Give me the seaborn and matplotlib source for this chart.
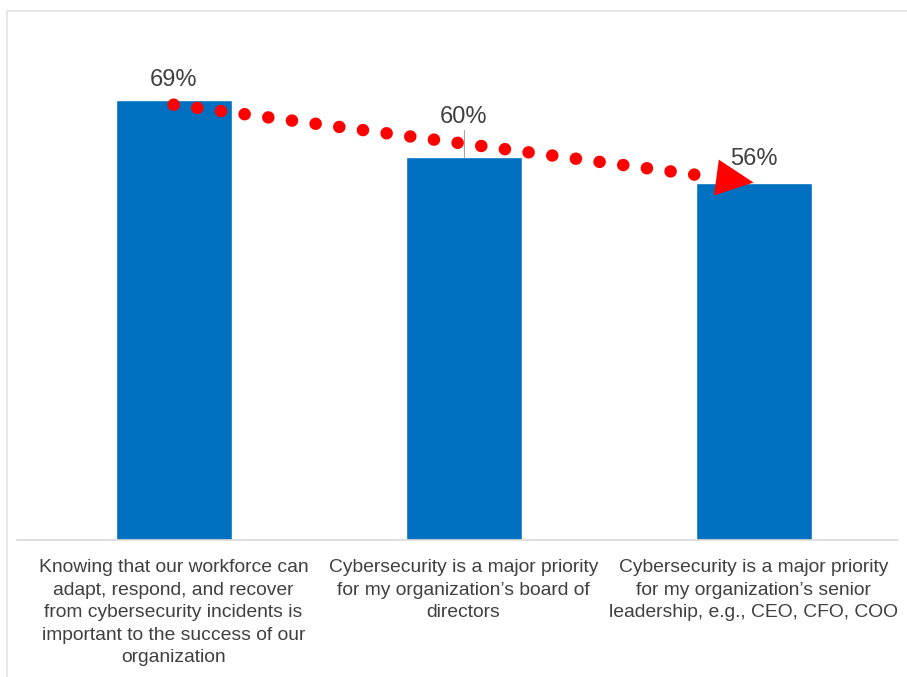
import matplotlib
matplotlib.use("Agg")
import matplotlib.pyplot as plt
from matplotlib.patches import Rectangle
import seaborn as sns
import pandas as pd
import numpy as np

# Survey statements and share of respondents agreeing (%)
categories = [
    "Knowing that our workforce can\nadapt, respond, and recover\nfrom cybersecurity incidents is\nimportant to the success of our\norganization",
    "Cybersecurity is a major priority\nfor my organization\u2019s board of\ndirectors",
    "Cybersecurity is a major priority\nfor my organization\u2019s senior\nleadership, e.g., CEO, CFO, COO",
]
values = [69, 60, 56]
value_labels = [f"{v}%" for v in values]

sns.set_theme(style="white")
plt.rcParams["font.family"] = ["Liberation Sans", "DejaVu Sans"]

BAR_BLUE = "#0070C0"
TEXT_GREY = "#404040"
ARROW_RED = "#FF0000"

df = pd.DataFrame({"category": categories, "value": values})

fig = plt.figure(figsize=(9.07, 6.77), dpi=100)
ax = fig.add_axes([17 / 907, 137 / 677, 881 / 907, 510 / 677])

sns.barplot(data=df, x="category", y="value", color=BAR_BLUE, width=0.4,
            saturation=1, ax=ax)

ax.set_xlim(-0.54, 2.498)
ax.set_ylim(0, 79.9)
ax.set_xlabel("")
ax.set_ylabel("")
ax.set_yticks([])
ax.tick_params(axis="x", length=0, pad=14, labelsize=13.9, labelcolor=TEXT_GREY)
for lbl in ax.get_xticklabels():
    lbl.set_horizontalalignment("center")
    lbl.set_verticalalignment("top")
    lbl.set_linespacing(1.42)
for side in ["top", "right", "left"]:
    ax.spines[side].set_visible(False)
ax.spines["bottom"].set_color("#d9d9d9")
ax.spines["bottom"].set_linewidth(1.2)

# Value labels above each bar (middle one lifted with a leader line)
label_lift = [1.4, 4.6, 2.0]
for i, (v, txt, lift) in enumerate(zip(values, value_labels, label_lift)):
    ax.text(i, v + lift, txt, ha="center", va="bottom", fontsize=17,
            color=TEXT_GREY)
ax.plot([1, 1], [values[1], values[1] + 4.2], color="#a6a6a6", lw=0.8,
        zorder=1)

# Red dotted trend arrow from the first bar towards the last one
x0, y0 = 0.0, values[0] - 0.8
x1, y1 = 2.0, values[2]
shaft_end = 1.87
ys = y0 + (y1 - y0) * (shaft_end - x0) / (x1 - x0)
ax.plot([x0, shaft_end], [y0, ys], color=ARROW_RED, lw=9.0,
        linestyle=(0, (0.01, 1.9)), dash_capstyle="round", zorder=4)
ax.annotate("", xy=(x1, y1), xytext=(shaft_end + 0.02,
            y0 + (y1 - y0) * (shaft_end + 0.02 - x0) / (x1 - x0)),
            arrowprops=dict(arrowstyle="-|>,head_length=2.7,head_width=1.3",
                            mutation_scale=10, color=ARROW_RED, lw=0,
                            shrinkA=0, shrinkB=0),
            zorder=5)

# Light frame around the chart area
fig.patches.append(Rectangle((7 / 907, -0.05), 1.2, 1 - 11 / 677 + 0.05,
                             transform=fig.transFigure, fill=False,
                             edgecolor="#e3e3e3", lw=1.2))

fig.savefig("out.png", dpi=100, facecolor="white")
